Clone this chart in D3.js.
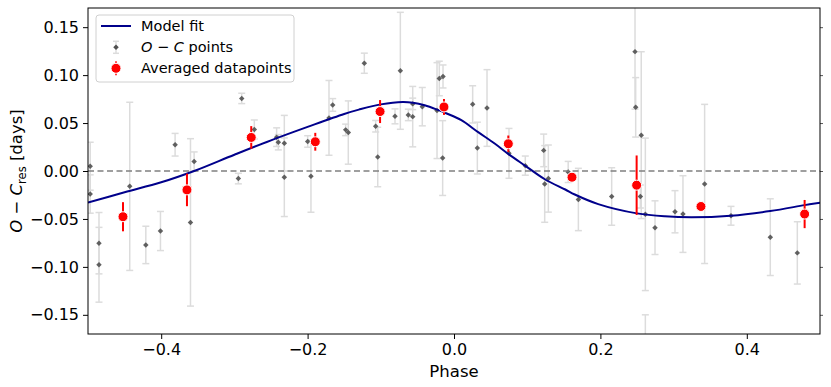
<!DOCTYPE html>
<html><head><meta charset="utf-8">
<script src="https://cdn.jsdelivr.net/npm/d3@7"></script>
<style>html,body{margin:0;padding:0;background:#fff}svg{display:block;font-family:"DejaVu Sans",sans-serif}</style>
</head><body>
<svg id="chart" width="831" height="387"></svg>
<script>
// ---- data ----
const xTicks = [-0.4, -0.2, 0.0, 0.2, 0.4];
const yTicks = [-0.15, -0.10, -0.05, 0.00, 0.05, 0.10, 0.15];
// model fit curve
const modelPhase = [-0.50,-0.45,-0.40,-0.355,-0.30,-0.25,-0.20,-0.15,-0.13,-0.10,-0.07,-0.056,-0.04,-0.023,-0.01,0.01,0.033,0.056,0.075,0.097,0.124,0.152,0.165,0.197,0.25,0.288,0.325,0.378,0.432,0.479,0.50];
const modelValue = [-0.0330,-0.0222,-0.0118,0.0000,0.0170,0.0320,0.0460,0.0595,0.0640,0.0695,0.0720,0.0712,0.0685,0.0640,0.0600,0.0530,0.0405,0.0284,0.0173,0.0056,-0.0086,-0.0193,-0.0245,-0.0345,-0.0442,-0.0473,-0.0483,-0.0467,-0.0418,-0.0356,-0.0330];
// O-C points
const ocPhase = [-0.497,-0.497,-0.485,-0.485,-0.443,-0.421,-0.401,-0.381,-0.360,-0.355,-0.290,-0.2946,-0.2728,-0.2423,-0.240,-0.2318,-0.2318,-0.1954,-0.1999,-0.1708,-0.1657,-0.148,-0.1444,-0.1225,-0.107,-0.1042,-0.0806,-0.0733,-0.0624,-0.0564,-0.0564,-0.0433,-0.0232,-0.0201,-0.015,-0.0155,0.0255,0.0319,0.0451,0.0751,0.0974,0.1225,0.1239,0.1289,0.156,0.1699,0.2154,0.2473,0.2482,0.2558,0.2546,0.2614,0.2614,0.2746,0.3019,0.3128,0.3424,0.3784,0.4321,0.469];
const ocValue = [0.005,-0.024,-0.0753,-0.0978,-0.016,-0.0771,-0.0626,0.0274,-0.0536,0.010,0.0757,-0.0079,0.0433,0.0353,0.030,0.029,-0.0065,-0.0055,0.0308,0.0554,0.0689,0.0429,0.0401,0.1124,0.0467,0.0146,0.057,0.1045,0.0585,0.0567,0.070,0.0671,0.063,0.0965,0.0986,0.0135,0.0695,0.0239,0.0657,0.0184,0.0056,0.0215,-0.0135,-0.0079,-0.001,-0.0297,-0.0266,0.1245,0.0664,0.0374,-0.0266,-0.0452,-0.215,-0.0591,-0.0425,-0.0449,-0.0135,-0.0467,-0.069,-0.0854];
const ocError = [0.025,0.020,0.032,0.039,0.0877,0.0195,0.0204,0.0118,0.0873,0.0099,0.0054,0.0055,0.0099,0.0097,0.008,0.029,0.041,0.0375,0.006,0.039,0.0066,0.006,0.033,0.0105,0.006,0.031,0.0078,0.061,0.006,0.0315,0.006,0.020,0.05,0.018,0.012,0.039,0.0194,0.027,0.040,0.026,0.010,0.017,0.040,0.035,0.011,0.0325,0.030,0.06,0.031,0.087,0.012,0.0795,0.065,0.028,0.022,0.040,0.083,0.0098,0.040,0.0325];
// averaged datapoints
const avgPhase = [-0.4522,-0.3648,-0.277,-0.1895,-0.101,-0.0137,0.0742,0.1612,0.2495,0.3374,0.479];
const avgValue = [-0.0477,-0.0197,0.035,0.0305,0.062,0.0668,0.0284,-0.0065,-0.0148,-0.037,-0.0449];
const avgError = [0.0152,0.017,0.0118,0.0093,0.012,0.0083,0.0086,0.004,0.031,0.004,0.0147];

// ---- layout ----
const W = 831, H = 387;
const m = {left: 88, right: 11, top: 8, bottom: 53};
const svg = d3.select("#chart");
const x = d3.scaleLinear().domain([-0.5, 0.5]).range([m.left, W - m.right]);
const y = d3.scaleLinear().domain([-0.17, 0.17]).range([H - m.bottom, m.top]);

svg.append("defs").append("clipPath").attr("id", "clip")
  .append("rect").attr("x", m.left).attr("y", m.top)
  .attr("width", W - m.left - m.right).attr("height", H - m.top - m.bottom);

const plot = svg.append("g").attr("clip-path", "url(#clip)");

// O-C error bars
const oc = ocPhase.map((p, i) => ({p, v: ocValue[i], e: ocError[i]}));
const ebColor = "#dcdcdc";
const ocG = plot.append("g");
oc.forEach(d => {
  const g = ocG.append("g").attr("stroke", ebColor).attr("stroke-width", 1.5);
  g.append("line").attr("x1", x(d.p)).attr("x2", x(d.p)).attr("y1", y(d.v - d.e)).attr("y2", y(d.v + d.e));
  [d.v - d.e, d.v + d.e].forEach(t => g.append("line")
    .attr("x1", x(d.p) - 3.5).attr("x2", x(d.p) + 3.5).attr("y1", y(t)).attr("y2", y(t)));
});

// zero line
plot.append("line").attr("x1", m.left).attr("x2", W - m.right)
  .attr("y1", y(0)).attr("y2", y(0))
  .attr("stroke", "#808080").attr("stroke-width", 1.6).attr("stroke-dasharray", "6,3.5");

// O-C markers
const diamond = d3.symbol().type(d3.symbolSquare).size(15);
ocG.selectAll("path.oc").data(oc).join("path").attr("class", "oc")
  .attr("d", diamond)
  .attr("transform", d => `translate(${x(d.p)},${y(d.v)}) rotate(45)`)
  .attr("fill", "#505050").attr("fill-opacity", 0.9);

// model curve
const model = modelPhase.map((p, i) => ({p, v: modelValue[i]}));
plot.append("path").datum(model)
  .attr("d", d3.line().x(d => x(d.p)).y(d => y(d.v)).curve(d3.curveCatmullRom.alpha(0.5)))
  .attr("fill", "none").attr("stroke", "#00008b").attr("stroke-width", 2);

// averaged points
const avg = avgPhase.map((p, i) => ({p, v: avgValue[i], e: avgError[i]}));
plot.selectAll("line.avg").data(avg).join("line").attr("class", "avg")
  .attr("x1", d => x(d.p)).attr("x2", d => x(d.p))
  .attr("y1", d => y(d.v - d.e)).attr("y2", d => y(d.v + d.e))
  .attr("stroke", "#ff0000").attr("stroke-width", 2);
plot.selectAll("circle.avg").data(avg).join("circle").attr("class", "avg")
  .attr("cx", d => x(d.p)).attr("cy", d => y(d.v)).attr("r", 5)
  .attr("fill", "#ff0000").attr("stroke", "#fff").attr("stroke-width", 1);

// axes
const fmtY = d => (d < 0 ? "\u2212" : "") + Math.abs(d).toFixed(2);
const fmtX = d => (d < 0 ? "\u2212" : "") + Math.abs(d).toFixed(1);
const yAxis = svg.append("g").attr("transform", `translate(${m.left},0)`)
  .call(d3.axisLeft(y).tickValues(yTicks).tickFormat(fmtY).tickSizeOuter(0).tickSize(5).tickPadding(4));
const xAxis = svg.append("g").attr("transform", `translate(0,${H - m.bottom})`)
  .call(d3.axisBottom(x).tickValues(xTicks).tickFormat(fmtX).tickSizeOuter(0).tickSize(5).tickPadding(5));
const yRight = svg.append("g").attr("transform", `translate(${W - m.right},0)`)
  .call(d3.axisRight(y).tickValues(yTicks).tickFormat("").tickSizeOuter(0).tickSize(3));
[xAxis, yAxis, yRight].forEach(a => {
  a.select(".domain").remove();
  a.selectAll("text").attr("font-size", 16).attr("fill", "#000").attr("font-family", "DejaVu Sans");
  a.selectAll("line").attr("stroke", "#000").attr("stroke-width", 1);
});
yRight.selectAll("line").attr("stroke", "#555");

// frame
svg.append("rect").attr("x", m.left).attr("y", m.top)
  .attr("width", W - m.left - m.right).attr("height", H - m.top - m.bottom)
  .attr("fill", "none").attr("stroke", "#000").attr("stroke-width", 1);

// axis labels
svg.append("text").attr("x", x(0)).attr("y", 377).attr("text-anchor", "middle")
  .attr("font-size", 16.5).text("Phase");
const yl = svg.append("text").attr("transform", `translate(22,${(m.top + H - m.bottom) / 2}) rotate(-90)`)
  .attr("text-anchor", "middle").attr("font-size", 16.5);
yl.append("tspan").attr("font-style", "italic").text("O");
yl.append("tspan").text(" \u2212 ");
yl.append("tspan").attr("font-style", "italic").text("C");
yl.append("tspan").attr("font-size", 11.5).attr("dy", 4).text("res");
yl.append("tspan").attr("dy", -4).text(" [days]");

// legend
const lg = svg.append("g");
lg.append("rect").attr("x", 96).attr("y", 15).attr("width", 198).attr("height", 67).attr("rx", 3)
  .attr("fill", "#fff").attr("fill-opacity", 0.8).attr("stroke", "#d0d0d0").attr("stroke-width", 1);
const rows = [26, 47.3, 68.3];
lg.append("line").attr("x1", 101).attr("x2", 131).attr("y1", rows[0]).attr("y2", rows[0])
  .attr("stroke", "#00008b").attr("stroke-width", 2);
const lgEb = lg.append("g").attr("stroke", ebColor).attr("stroke-width", 1.5);
lgEb.append("line").attr("x1", 116).attr("x2", 116).attr("y1", rows[1] - 6).attr("y2", rows[1] + 6);
lgEb.append("line").attr("x1", 113).attr("x2", 119).attr("y1", rows[1] - 6).attr("y2", rows[1] - 6);
lgEb.append("line").attr("x1", 113).attr("x2", 119).attr("y1", rows[1] + 6).attr("y2", rows[1] + 6);
lg.append("path").attr("d", diamond).attr("transform", `translate(116,${rows[1]}) rotate(45)`).attr("fill", "#505050");
lg.append("line").attr("x1", 116).attr("x2", 116).attr("y1", rows[2] - 7).attr("y2", rows[2] + 7)
  .attr("stroke", "#ff0000").attr("stroke-width", 1.5);
lg.append("circle").attr("cx", 116).attr("cy", rows[2]).attr("r", 5).attr("fill", "#ff0000").attr("stroke", "#fff");
const lt = (i, parts) => {
  const t = lg.append("text").attr("x", 141).attr("y", rows[i] + 5).attr("font-size", 14.5);
  parts.forEach(([s, it]) => t.append("tspan").attr("font-style", it ? "italic" : "normal").text(s));
};
lt(0, [["Model fit", false]]);
lt(1, [["O", true], [" \u2212 ", false], ["C", true], [" points", false]]);
lt(2, [["Averaged datapoints", false]]);
</script>
</body></html>
